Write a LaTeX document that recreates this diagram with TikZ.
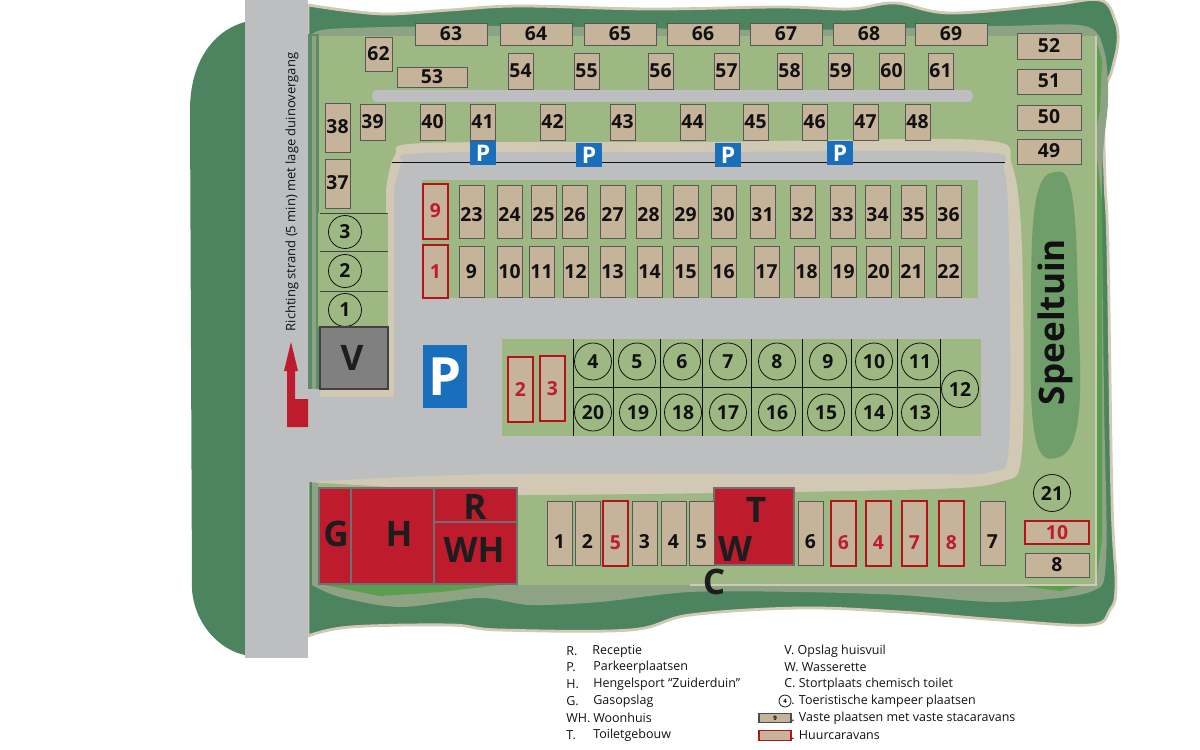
\documentclass[tikz,border=0pt]{standalone}
\usepackage{fontspec}
\setmainfont{Open Sans}

\definecolor{sand}{HTML}{C6B49A}
\definecolor{asphalt}{HTML}{BCBEC0}
\definecolor{grass}{HTML}{9DB883}
\definecolor{dune}{HTML}{4C8460}
\definecolor{verge}{HTML}{8EA383}
\definecolor{bright}{HTML}{5C9E50}
\definecolor{shore}{HTML}{D2C9B4}
\definecolor{pond}{HTML}{6F9E6A}
\definecolor{brick}{HTML}{BE1C2D}
\definecolor{redline}{HTML}{B5121B}
\definecolor{signblue}{HTML}{1A6FBC}
\definecolor{ink}{HTML}{111111}

\tikzset{
    stapitch/.style={draw=ink!70, line width=0.5pt, fill=sand, inner sep=0pt, outer sep=0pt,
        text=ink, font=\fontsize{11}{12}\bfseries, text height=0.26cm, text depth=0pt},
    huurpitch/.style={stapitch, draw=redline, line width=0.95pt, text=brick},
    low/.style={text height=0.62cm},
    lower/.style={text height=0.42cm},
    tent/.style={circle, draw=ink, line width=0.45pt, inner sep=0pt, minimum size=0.74cm,
        text=ink, font=\fontsize{11}{12}\bfseries},
    building/.style={draw=ink!60, line width=0.6pt, fill=brick, inner sep=0pt, outer sep=0pt},
    bigletter/.style={text=ink!95, inner sep=0pt, font=\fontsize{20}{22}\bfseries},
    parksign/.style={fill=signblue, text=white, inner sep=0pt, outer sep=0pt, font=\bfseries},
    legend/.style={anchor=west, inner sep=0pt, text=ink, font=\fontsize{7.1}{8}\selectfont},
}

% corner coordinates in pixels of the plan
\newcommand{\pitch}[6][stapitch]{
    \node (p#2x#3) [#1, minimum width={(#4-#2)*0.02cm}, minimum height={(#5-#3)*0.02cm}]
        at ({(#2+#4)/2},{(#3+#5)/2}) {#6};
}

\begin{document}
\begin{tikzpicture}[x=0.02cm, y=-0.02cm]
    \useasboundingbox (0,0) rectangle (1200,750);

    % dunes
    \fill[dune] (245,22) .. controls (215,30) and (190,60) .. (190,110)
        -- (192,590) .. controls (195,625) and (220,650) .. (245,655) -- cycle;
    \path[fill=dune, draw=shore, line width=1.6pt] plot[smooth, tension=0.6] coordinates {
        (308,5) (350,11) (390,14) (450,10) (520,6) (650,9) (780,7) (850,9) (895,3) (950,13)
        (1050,5) (1100,0) (1115,20) (1118,42) (1112,70) (1104,100) (1105,180) (1108,250)
        (1112,500) (1116,585) (1110,610) (1090,625) (1000,620) (900,612) (800,608) (690,615)
        (630,630) (500,630) (450,625) (350,627) (308,636)} -- cycle;

    % verge round the site
    \path[fill=verge] plot[smooth, tension=0.5] coordinates {
        (312,40) (330,29) (500,26) (780,30) (1000,26) (1085,26) (1104,50) (1108,100)
        (1102,180) (1104,400) (1106,560) (1090,592) (1000,602) (900,595) (800,592) (690,592)
        (600,602) (530,605) (480,598) (400,607) (340,597) (312,585)} -- cycle;
    \fill[bright] (325,585) -- (500,585) -- (440,592) -- (380,596) -- cycle;
    \fill[bright] (1015,585) -- (1085,585) -- (1060,591) -- cycle;
    \fill[bright] (1096,40) -- (1102,60) -- (1100,110) -- (1096,130) -- cycle;
    \fill[bright] (1096,150) -- (1102,200) -- (1102,540) -- (1096,580) -- cycle;
    \fill[grass] (318,36) rectangle (1096,585);
    \draw[shore, line width=0.9pt] (1096,36) -- (1096,585) -- (690,585);
    \fill[dune!75!verge] (308,34) rectangle (319,389);
    \fill[verge] (312,36) rectangle (316,389);

    % roads
    \path[fill=shore] plot[smooth, tension=0.5] coordinates {
        (386,190) (395,155) (425,143) (700,142) (980,140) (1012,165) (1022,250) (1022,450)
        (1000,482) (900,490) (520,495) (440,490) (308,482)} -- (308,389) -- (388,389) -- cycle;
    \path[fill=asphalt] plot[smooth, tension=0.5] coordinates {
        (394,190) (402,163) (425,153) (700,152) (980,152) (1004,170) (1009,250) (1009,445)
        (990,472) (900,474) (500,474) (308,482)} -- (308,389) -- (320,389) -- (320,397) -- (394,397) -- cycle;
    \fill[grass] (318,213) rectangle (388,327);
    \fill[asphalt, rounded corners=0.1cm] (372,90) rectangle (973,102);
    \fill[asphalt] (245,0) rectangle (308,658);
    \draw[ink, line width=0.6pt] (392,162.5) -- (1005,162.5);

    % islands
    \fill[grass] (422,180) rectangle (978,298);
    \fill[grass] (502,339) rectangle (981,436);
    \path[fill=pond] plot[smooth cycle, tension=0.7] coordinates {
        (1055,172) (1072,195) (1078,300) (1078,420) (1056,458) (1034,430) (1031,300) (1036,200)};

    % top rows
    \foreach \xa/\lab in {415/63, 500/64, 584/65, 667/66, 750/67, 833/68, 915/69} {
        \pitch{\xa}{23}{\xa+72}{45}{\lab}
    }
    \pitch{365}{37}{392}{71}{62}
    \pitch{397}{67}{467}{87}{53}
    \foreach \xa/\lab in {508/54, 574/55, 648/56, 714/57, 777/58, 828/59, 879/60, 928/61} {
        \pitch{\xa}{53}{\xa+25}{89}{\lab}
    }
    \foreach \xa/\lab in {360/39, 420/40, 470/41, 540/42, 610/43, 680/44, 743/45, 802/46, 853/47, 905/48} {
        \pitch{\xa}{104}{\xa+25}{140}{\lab}
    }
    \pitch{325}{103}{350}{152}{38}
    \pitch{325}{159}{350}{208}{37}
    \pitch{1017}{33}{1081}{59}{52}
    \pitch{1017}{69}{1081}{94}{51}
    \pitch{1017}{105}{1081}{130}{50}
    \pitch{1017}{139}{1081}{164}{49}

    % parking signs
    \foreach \xa/\ya in {470/140, 576/142, 715/142, 827/140} {
        \node (sign\xa) [parksign, minimum width=0.51cm, minimum height=0.5cm, font=\fontsize{13}{14}\bfseries]
            at (\xa+13,\ya+13) {P};
    }
    \node (bigsign) [parksign, minimum width=0.88cm, minimum height=1.26cm, font=\fontsize{30}{32}\bfseries]
        at (445,376.5) {P};

    % first island
    \pitch[huurpitch]{423}{184}{448}{239}{9}
    \pitch[huurpitch]{423}{245}{448}{298}{1}
    \foreach \xa/\lab in {459/23, 497/24, 531/25, 562/26, 600/27, 636/28, 673/29, 711/30, 750/31,
            790/32, 830/33, 865/34, 901/35, 936/36} {
        \pitch[stapitch, lower]{\xa}{185}{\xa+25}{238}{\lab}
    }
    \foreach \xa/\lab in {459/9, 497/10, 529/11, 563/12, 600/13, 637/14, 673/15, 711/16, 754/17,
            794/18, 831/19, 866/20, 899/21, 936/22} {
        \pitch{\xa}{246}{\xa+25}{297}{\lab}
    }

    % second island
    \pitch[huurpitch]{508}{357}{533}{422}{2}
    \pitch[huurpitch]{540}{356}{565}{421}{3}
    \foreach \xa in {573, 613, 660, 702, 751, 802, 851, 897, 940} {
        \draw[ink, line width=0.5pt] (\xa,339) -- (\xa,436);
    }
    \draw[ink, line width=0.5pt] (573,387.5) -- (940,387.5);
    \foreach \xa/\lab in {593/4, 637/5, 682/6, 728/7, 777/8, 828/9, 874/10, 920/11} {
        \node (ta\lab) [tent] at (\xa,361.5) {\lab};
    }
    \foreach \xa/\lab in {593/20, 638/19, 683/18, 728/17, 777/16, 826/15, 874/14, 920/13} {
        \node (tb\lab) [tent] at (\xa,412.5) {\lab};
    }
    \node (tc12) [tent] at (960,389) {12};

    % left strip
    \foreach \ya in {213, 251, 291} {
        \draw[ink!80, line width=0.5pt] (320,\ya) -- (388,\ya);
    }
    \node (td3) [tent, minimum size=0.66cm] at (345,232) {3};
    \node (td2) [tent, minimum size=0.66cm] at (345,271) {2};
    \node (td1) [tent, minimum size=0.66cm] at (345,310) {1};
    \node (storage) [draw=ink!80, fill=black!50, line width=0.6pt, minimum width=1.36cm, minimum height=1.24cm,
        inner sep=0pt, outer sep=0pt] at (354,358) {};
    \node (vletter) [bigletter] at (352,358) {V};

    % arrow and beach text
    \fill[brick] (291,342) -- (298,371) -- (295,371) -- (295,399) -- (308,399) -- (308,427)
        -- (287,427) -- (287,371) -- (284,371) -- cycle;
    \node (beach) [rotate=90, inner sep=0pt, text=ink, font=\fontsize{7.4}{8}\selectfont] at (292,192)
        {Richting strand (5 min) met lage duinovergang};

    % buildings
    \node (gbox) [building, minimum width=0.64cm, minimum height=1.92cm] at (335,536) {};
    \node (hbox) [building, minimum width=1.66cm, minimum height=1.92cm] at (392.5,536) {};
    \node (rbox) [building, minimum width=1.66cm, minimum height=0.68cm] at (475.5,505) {};
    \node (wbox) [building, minimum width=1.66cm, minimum height=1.24cm] at (475.5,553) {};
    \node (tbox) [building, minimum width=1.6cm, minimum height=1.54cm] at (754,526.5) {};
    \node (gletter) [bigletter] at (336,534) {G};
    \node (hletter) [bigletter] at (399,534) {H};
    \node (rletter) [bigletter] at (475,507) {R};
    \node (wletter) [bigletter] at (474,550) {WH};
    \node (tletter) [bigletter] at (756,510) {T};
    \node (wasletter) [bigletter] at (735,549) {W};
    \node (cletter) [bigletter] at (714,582) {C};

    % bottom row
    \foreach \xa/\lab in {547/1, 575/2, 632/3, 661/4, 689/5, 798/6, 980/7} {
        \pitch[stapitch, low]{\xa}{501}{\xa+25}{565}{\lab}
    }
    \foreach \xa/\lab in {603/5, 831/6, 866/4, 902/7, 939/8} {
        \pitch[huurpitch, low]{\xa}{501}{\xa+25}{566}{\lab}
    }
    \node (te21) [tent] at (1052,493) {21};
    \pitch[huurpitch]{1025}{521}{1089}{544}{10}
    \pitch{1025}{553}{1089}{577}{8}

    % play area
    \node (play) [rotate=90, inner sep=0pt, text=ink, font=\fontsize{20}{22}\bfseries] at (1055,322) {Speeltuin};

    % legend
    \foreach \ya/\key/\xa/\txt in {651/R./592/Receptie, 667.5/P./593/Parkeerplaatsen,
            684/H./593/Hengelsport “Zuiderduin”, 701/G./593/Gasopslag,
            718/WH./593/Woonhuis, 735/T./593/Toiletgebouw} {
        \node (key\ya) [legend] at (566,\ya) {\key};
        \node (txt\ya) [legend] at (\xa,\ya) {\txt};
    }
    \node (lv) [legend] at (784,651) {V. Opslag huisvuil};
    \node (lw) [legend] at (784,667.5) {W. Wasserette};
    \node (lc) [legend] at (784,684) {C. Stortplaats chemisch toilet};
    \node (lt) [legend] at (791,701) {. Toeristische kampeer plaatsen};
    \node (ls) [legend] at (791,718) {. Vaste plaatsen met vaste stacaravans};
    \node (lh) [legend] at (791,735) {. Huurcaravans};
    \node (ltent) [circle, draw=ink, line width=0.45pt, minimum size=0.24cm, inner sep=0pt,
        font=\fontsize{3.5}{4}\bfseries] at (785,701) {4};
    \node (lsta) [draw=ink!75, fill=sand, line width=0.6pt, minimum width=0.64cm, minimum height=0.18cm,
        inner sep=0pt, font=\fontsize{3.5}{4}\bfseries] at (775,718) {9};
    \node (lhuur) [draw=redline, fill=sand, line width=0.95pt, minimum width=0.64cm, minimum height=0.2cm,
        inner sep=0pt] at (775,735.5) {};
\end{tikzpicture}
\end{document}
